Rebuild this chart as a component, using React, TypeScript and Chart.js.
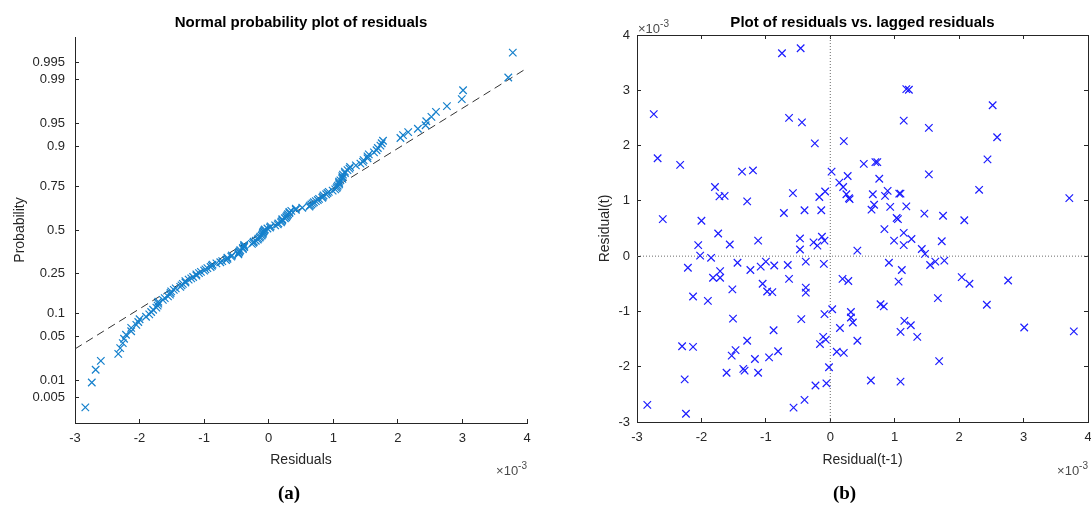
import React, { useEffect, useRef } from "react";
import { Chart, registerables } from "chart.js";

Chart.register(...registerables);

// ---------- Data (residuals in units of 1e-3) ----------
// Left panel: residuals sorted ascending (normal probability plot)
const SORTED_RESIDUALS = [
  -2.84, -2.74, -2.68, -2.6, -2.33, -2.3, -2.26, -2.24, -2.21, -2.13, -2.13, -2.05, -2.02, -2.0,
  -1.9, -1.85, -1.82, -1.79, -1.74, -1.72, -1.71, -1.71, -1.64, -1.61, -1.56, -1.53, -1.52, -1.51,
  -1.47, -1.44, -1.37, -1.35, -1.33, -1.29, -1.29, -1.24, -1.2, -1.17, -1.12, -1.12, -1.08, -1.05, -1.0,
  -0.98, -0.95, -0.9, -0.88, -0.87, -0.81, -0.75, -0.72, -0.66, -0.64, -0.64, -0.58, -0.57, -0.47,
  -0.47, -0.46, -0.45, -0.44, -0.4, -0.4, -0.38, -0.38, -0.38, -0.26, -0.24, -0.23, -0.2, -0.17,
  -0.16, -0.14, -0.13, -0.11, -0.1, -0.09, -0.09, -0.08, -0.07, -0.06, -0.02,
  0.02, 0.03, 0.1, 0.14, 0.15, 0.19, 0.2, 0.21, 0.21, 0.25, 0.27, 0.28, 0.29, 0.3, 0.32, 0.32, 0.35,
  0.42, 0.42, 0.52, 0.63, 0.64, 0.66, 0.68, 0.7, 0.73, 0.76, 0.78, 0.83, 0.84, 0.85, 0.89, 0.91,
  0.93, 0.99, 1.03, 1.05, 1.06, 1.07, 1.09, 1.09, 1.09, 1.11, 1.14, 1.14, 1.14, 1.15, 1.18, 1.18,
  1.22, 1.25, 1.26, 1.35, 1.42, 1.46, 1.47, 1.53, 1.53, 1.55, 1.63, 1.67, 1.69, 1.73, 1.75, 1.77,
  2.04, 2.08, 2.16, 2.31, 2.43, 2.44, 2.52, 2.59, 2.76, 2.99, 3.01, 3.71, 3.78,
];
const PROB_TICKS = [0.005, 0.01, 0.05, 0.1, 0.25, 0.5, 0.75, 0.9, 0.95, 0.99, 0.995];
const PROB_TICK_LABELS = ["0.005", "0.01", "0.05", "0.1", "0.25", "0.5", "0.75", "0.9", "0.95", "0.99", "0.995"];
const REF_LINE_X = [-3, 4];
const REF_LINE_PROB = [0.0334, 0.9937];
const PROB_Z_LIMIT = 2.975;

// Right panel: residual(t-1) vs residual(t)
const LAGGED_RESIDUAL = [
  -2.74, -2.68, -2.33, -2.6, -2.0, -1.79, -1.72, -1.64, -1.37, -1.2, -1.29, -0.75, -0.46, -0.64, -0.44,
  -0.24, -0.58, -0.72, -0.4, -0.17, -0.08, -0.14, 0.02, 0.21, 0.14, 0.2, 0.27, 0.25, 0.29, 0.3,
  0.52, 0.7, 0.73, 0.76, 0.66, 0.68, 0.64, 0.85, 0.89, 0.93, 1.07, 1.09, 1.18, 1.22, 1.14,
  1.18, 1.03, 1.05, 0.84, 0.99, 1.14, 1.26, 1.53, 1.53, 1.46, 1.75, 2.08, 2.31, 2.44, 2.52,
  2.59, 3.71, -1.74, -2.05, -1.56, -1.12, -0.47, -0.26, -0.2, -0.13, -0.09, 1.73, 1.42, 0.42, 1.14,
  -2.02, -0.47, -2.21, -1.85, -1.82, -1.71, -1.71, -1.44, -1.24, -1.08, -1.0, -0.87, -0.66, -0.38, -0.1,
  -1.52, -2.13, -1.9, -1.05, -0.98, -0.9, -0.64, -0.38, -0.38,
  -1.51, -0.88, -0.45, -0.09, 0.03, 0.15, 0.32, 0.32, 0.35, 0.42, -0.11, -0.07, -0.16, 0.19, 0.28, 0.1, 0.21,
  -2.3, -2.13, -2.26, -2.24, -2.84, -1.61, -1.53, -1.47, -1.29, -1.35, -1.33, -1.17, -1.12, -0.95, -0.81,
  -0.57, -0.4, -0.23, -0.06, -0.02, 0.63, 1.09, 1.69,
  1.09, 1.15, 1.25, 1.35, 0.78, 0.83, 1.67, 2.43, 3.01, 3.78,
  2.04, 2.16, 2.76, 1.06, 1.11, 0.91, 1.55, 1.63, 1.77, 1.47,
];
const RESIDUAL = [
  2.57, 1.77, 1.65, 0.67, 0.64, 1.25, 1.08, 1.09, 1.53, 1.55, 0.99, 3.67, 3.76, 2.5, 2.42,
  2.04, 1.14, 0.78, 0.83, 1.07, 1.17, 0.83, 1.53, 2.08, 1.33, 1.25, 1.45, 1.12, 1.05, 1.03,
  1.67, 1.7, 1.7, 1.4, 1.12, 0.93, 0.84, 1.09, 1.18, 0.89, 1.13, 1.13, 3.02, 3.01, 2.45,
  0.9, 0.69, 0.67, 0.49, 0.28, 0.42, 0.31, 2.32, 1.48, 0.77, 0.73, 0.65, 1.2, 1.75, 2.73,
  2.15, 1.05, 0.41, 0.2, 0.21, 0.28, 0.32, 0.25, 0.19, 0.35, 0.28, 0.27, 0.13, 0.1, 0.2,
  0.01, 0.12, -0.21, -0.03, -0.39, -0.27, -0.39, -0.12, -0.25, -0.19, -0.1, -0.17, -0.16, -0.1, -0.14,
  -0.6, -0.73, -0.81, -0.5, -0.64, -0.65, -0.41, -0.57, -0.66,
  -1.13, -1.34, -1.14, -1.05, -0.96, -1.3, -1.01, -1.11, -1.2, -1.53, -1.46, -1.51, -1.59, -0.41, -0.45, -1.73, -1.75,
  -1.63, -1.64, -2.23, -2.85, -2.69, -2.11, -1.8, -1.7, -1.53, -2.04, -2.07, -1.86, -2.11, -1.83, -1.72,
  -2.74, -2.6, -2.34, -2.3, -2.01, -2.25, -2.27, -1.9,
  -1.37, -1.17, -1.25, -1.46, -0.87, -0.91, -0.76, -0.88, -1.29, -1.36,
  -0.38, -0.5, -0.44, -0.46, -0.25, -0.12, -0.16, -0.1, -0.08, 0.04,
];
const AXIS_MIN = -3;
const AXIS_MAX = 4;

// ---------- helpers ----------
function probit(p: number): number {
  const a = [-39.69683028665376, 220.9460984245205, -275.9285104469687, 138.357751867269, -30.66479806614716, 2.506628277459239];
  const b = [-54.47609879822406, 161.5858368580409, -155.6989798598866, 66.80131188771972, -13.28068155288572];
  const c = [-0.007784894002430293, -0.3223964580411365, -2.400758277161838, -2.549671464970216, 4.374664141464968, 2.938163982698783];
  const d = [0.007784695709041462, 0.3224671290700398, 2.445134137142996, 3.754408661907416];
  const plow = 0.02425;
  if (p < plow) {
    const q = Math.sqrt(-2 * Math.log(p));
    return (((((c[0] * q + c[1]) * q + c[2]) * q + c[3]) * q + c[4]) * q + c[5]) / ((((d[0] * q + d[1]) * q + d[2]) * q + d[3]) * q + 1);
  }
  if (p <= 1 - plow) {
    const q = p - 0.5;
    const r = q * q;
    return ((((((a[0] * r + a[1]) * r + a[2]) * r + a[3]) * r + a[4]) * r + a[5]) * q) / (((((b[0] * r + b[1]) * r + b[2]) * r + b[3]) * r + b[4]) * r + 1);
  }
  const q = Math.sqrt(-2 * Math.log(1 - p));
  return -(((((c[0] * q + c[1]) * q + c[2]) * q + c[3]) * q + c[4]) * q + c[5]) / ((((d[0] * q + d[1]) * q + d[2]) * q + d[3]) * q + 1);
}

const SANS = '"Liberation Sans", Arial, Helvetica, sans-serif';
const AXIS_COLOR = "#262626";
const TICK_FONT = { family: SANS, size: 13 };

function drawExponent(ctx: CanvasRenderingContext2D, x: number, y: number, align: "left" | "right") {
  ctx.save();
  ctx.fillStyle = "#4a4a4a";
  ctx.textBaseline = "middle";
  const base = "×10";
  ctx.font = `10px ${SANS}`;
  const supW = ctx.measureText("-3").width;
  ctx.font = `13px ${SANS}`;
  const baseW = ctx.measureText(base).width;
  const startX = align === "left" ? x : x - baseW - supW;
  ctx.textAlign = "left";
  ctx.fillText(base, startX, y);
  ctx.font = `10px ${SANS}`;
  ctx.fillText("-3", startX + baseW, y - 5);
  ctx.restore();
}

function makeTextPlugin(cfg: {
  title: string;
  xLabel: string;
  yLabel: string;
  yLabelX: (left: number) => number;
  caption: string;
  captionShift: number;
  topExponent: boolean;
}) {
  return {
    id: "texts",
    afterDraw(chart: any) {
      const ctx: CanvasRenderingContext2D = chart.ctx;
      const area = chart.chartArea;
      const cx = (area.left + area.right) / 2;
      const cy = (area.top + area.bottom) / 2;
      ctx.save();
      ctx.textAlign = "center";
      ctx.textBaseline = "middle";
      ctx.fillStyle = "#000";
      ctx.font = `bold 15px ${SANS}`;
      ctx.fillText(cfg.title, cx, 22.5);
      ctx.fillStyle = AXIS_COLOR;
      ctx.font = `14px ${SANS}`;
      ctx.fillText(cfg.xLabel, cx, 460);
      ctx.save();
      ctx.translate(cfg.yLabelX(area.left), cy);
      ctx.rotate(-Math.PI / 2);
      ctx.fillText(cfg.yLabel, 0, 0);
      ctx.restore();
      ctx.fillStyle = "#000";
      ctx.font = `bold 19px "Liberation Serif", "Times New Roman", serif`;
      ctx.fillText(cfg.caption, cx + cfg.captionShift, 494);
      ctx.restore();
      drawExponent(ctx, area.right, 471, "right");
      if (cfg.topExponent) drawExponent(ctx, area.left + 1, 29, "left");
    },
  };
}

function axisCommon() {
  return {
    grid: { drawOnChartArea: false, tickLength: -4, color: AXIS_COLOR, lineWidth: 1 },
    border: { color: AXIS_COLOR, width: 1 },
  };
}

export default function App() {
  const leftRef = useRef<HTMLCanvasElement>(null);
  const rightRef = useRef<HTMLCanvasElement>(null);

  useEffect(() => {
    const n = SORTED_RESIDUALS.length;
    const normalPoints = SORTED_RESIDUALS.map((r, i) => ({ x: r, y: probit((i + 0.5) / n) }));
    const refLine = REF_LINE_X.map((x, i) => ({ x, y: probit(REF_LINE_PROB[i]) }));

    const left = new Chart(leftRef.current as HTMLCanvasElement, {
      type: "scatter",
      data: {
        datasets: [
          {
            label: "Residuals",
            data: normalPoints,
            pointStyle: "crossRot",
            pointRadius: 5.3,
            pointBorderWidth: 1.2,
            borderColor: "#1580cc",
            backgroundColor: "rgba(0,0,0,0)",
            order: 0,
          } as any,
          {
            type: "line",
            label: "Reference",
            data: refLine,
            borderColor: "#333333",
            borderWidth: 1,
            borderDash: [8, 5],
            pointRadius: 0,
            fill: false,
            order: 1,
          } as any,
        ],
      },
      options: {
        animation: false,
        responsive: false,
        devicePixelRatio: 1,
        layout: { padding: { left: 0, right: 545 - 527, top: 37, bottom: 508 - 423 - 40 } },
        plugins: { legend: { display: false }, tooltip: { enabled: false }, title: { display: false } },
        scales: {
          x: {
            type: "linear",
            position: "bottom",
            min: AXIS_MIN,
            max: AXIS_MAX,
            ticks: { stepSize: 1, color: AXIS_COLOR, font: TICK_FONT, padding: 12, maxRotation: 0, autoSkip: false, callback: (v: any) => String(v) },
            ...axisCommon(),
            afterFit: (s: any) => { s.height = 40; },
          },
          y: {
            type: "linear",
            position: "left",
            min: -PROB_Z_LIMIT,
            max: PROB_Z_LIMIT,
            afterBuildTicks: (s: any) => { s.ticks = PROB_TICKS.map((p) => ({ value: probit(p) })); },
            ticks: { color: AXIS_COLOR, font: TICK_FONT, padding: 14, autoSkip: false, callback: (_v: any, i: number) => PROB_TICK_LABELS[i] },
            ...axisCommon(),
            afterFit: (s: any) => { s.width = 75; },
          },
        },
      } as any,
      plugins: [
        makeTextPlugin({
          title: "Normal probability plot of residuals",
          xLabel: "Residuals",
          yLabel: "Probability",
          yLabelX: () => 20,
          caption: "(a)",
          captionShift: -12,
          topExponent: false,
        }) as any,
      ],
    });

    const lagPoints = LAGGED_RESIDUAL.map((x, i) => ({ x, y: RESIDUAL[i] }));
    const right = new Chart(rightRef.current as HTMLCanvasElement, {
      type: "scatter",
      data: {
        datasets: [
          {
            label: "Residual",
            data: lagPoints,
            pointStyle: "crossRot",
            pointRadius: 5.3,
            pointBorderWidth: 1.2,
            borderColor: "#1c1cff",
            backgroundColor: "rgba(0,0,0,0)",
            order: 0,
          } as any,
          {
            type: "line",
            label: "h0",
            data: [{ x: AXIS_MIN, y: 0 }, { x: AXIS_MAX, y: 0 }],
            borderColor: "#6a6a6a",
            borderWidth: 1,
            borderDash: [1, 2],
            pointRadius: 0,
            fill: false,
            order: 1,
          } as any,
          {
            type: "line",
            label: "v0",
            data: [{ x: 0, y: AXIS_MIN }, { x: 0, y: AXIS_MAX }],
            borderColor: "#6a6a6a",
            borderWidth: 1,
            borderDash: [1, 2],
            pointRadius: 0,
            fill: false,
            order: 1,
          } as any,
        ],
      },
      options: {
        animation: false,
        responsive: false,
        devicePixelRatio: 1,
        layout: { padding: { left: 0, right: 560 - 543, top: 35, bottom: 508 - 422 - 40 } },
        plugins: { legend: { display: false }, tooltip: { enabled: false }, title: { display: false } },
        scales: {
          x: {
            type: "linear",
            position: "bottom",
            min: AXIS_MIN,
            max: AXIS_MAX,
            ticks: { stepSize: 1, color: AXIS_COLOR, font: TICK_FONT, padding: 12, maxRotation: 0, autoSkip: false, callback: (v: any) => String(v) },
            ...axisCommon(),
            afterFit: (s: any) => { s.height = 40; },
          },
          x2: {
            type: "linear",
            position: "top",
            min: AXIS_MIN,
            max: AXIS_MAX,
            ticks: { stepSize: 1, display: false },
            ...axisCommon(),
            afterFit: (s: any) => { s.height = 0; },
          },
          y: {
            type: "linear",
            position: "left",
            min: AXIS_MIN,
            max: AXIS_MAX,
            ticks: { stepSize: 1, color: AXIS_COLOR, font: TICK_FONT, padding: 11, autoSkip: false, callback: (v: any) => String(v) },
            ...axisCommon(),
            afterFit: (s: any) => { s.width = 92; },
          },
          y2: {
            type: "linear",
            position: "right",
            min: AXIS_MIN,
            max: AXIS_MAX,
            ticks: { stepSize: 1, display: false },
            ...axisCommon(),
            afterFit: (s: any) => { s.width = 0; },
          },
        },
      } as any,
      plugins: [
        makeTextPlugin({
          title: "Plot of residuals vs. lagged residuals",
          xLabel: "Residual(t-1)",
          yLabel: "Residual(t)",
          yLabelX: (l) => l - 32,
          caption: "(b)",
          captionShift: -18,
          topExponent: true,
        }) as any,
      ],
    });

    return () => {
      left.destroy();
      right.destroy();
    };
  }, []);

  return (
    <div style={{ position: "absolute", left: 0, top: 0, width: 1091, height: 508, overflow: "hidden", background: "#fff" }}>
      <div style={{ position: "absolute", left: 0, top: 0 }}>
        <canvas ref={leftRef} width={545} height={508} style={{ display: "block" }} />
      </div>
      <div style={{ position: "absolute", left: 545, top: 0 }}>
        <canvas ref={rightRef} width={560} height={508} style={{ display: "block" }} />
      </div>
    </div>
  );
}
